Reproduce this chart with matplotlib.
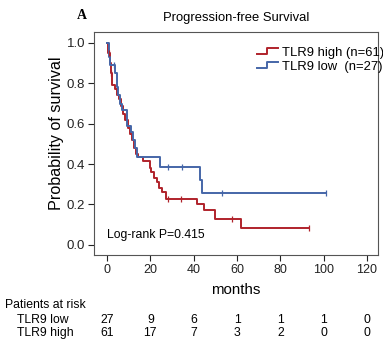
import matplotlib
matplotlib.use("Agg")
import matplotlib.pyplot as plt
from matplotlib.lines import Line2D
from matplotlib.legend_handler import HandlerBase
import matplotlib.transforms as mtransforms

plt.rcParams['font.family'] = ['Liberation Sans', 'DejaVu Sans']

# step curves (months, survival)
high_t = [0, 0.5, 1.2, 1.8, 2.3, 3.5, 4.5, 5.5, 6.5, 7.5, 8.5, 9.5, 10.5, 11.5, 12.5,
          13.5, 14.5, 16.7, 19.8, 20.5, 21.7, 22.9, 24, 25.2, 27, 41.5, 44.7, 49.8, 61.7, 93]
high_s = [1.0, 0.95, 0.90, 0.85, 0.79, 0.77, 0.74, 0.72, 0.69, 0.65, 0.62, 0.58, 0.55, 0.52, 0.48,
          0.45, 0.434, 0.414, 0.38, 0.36, 0.33, 0.31, 0.28, 0.26, 0.225, 0.20, 0.175, 0.13, 0.085, 0.085]
high_cens = [1.0, 2.0, 28, 34.3, 57.5, 93]

low_t = [0, 1, 1.5, 3.5, 4.5, 5, 6, 7, 9, 11, 12, 13, 14, 24.5, 43, 43.8, 101]
low_s = [1.0, 0.93, 0.89, 0.85, 0.78, 0.74, 0.70, 0.67, 0.59, 0.56, 0.52, 0.48, 0.434,
         0.384, 0.32, 0.256, 0.256]
low_cens = [3.0, 28, 34.5, 53, 101]

risk_months = [0, 20, 40, 60, 80, 100, 120]
risk_low = [27, 9, 6, 1, 1, 1, 0]
risk_high = [61, 17, 7, 3, 2, 0, 0]

red = '#B0232B'
blue = '#4566A8'


def surv_at(t, ts, ss):
    v = ss[0]
    for a, b in zip(ts, ss):
        if a <= t:
            v = b
    return v


class StepHandler(HandlerBase):
    def create_artists(self, legend, orig, xd, yd, w, h, fontsize, trans):
        x = [xd, xd + w * 0.45, xd + w * 0.45, xd + w]
        y = [yd + h * 0.2, yd + h * 0.2, yd + h * 0.8, yd + h * 0.8]
        ln = Line2D(x, y, color=orig.get_color(), lw=1.4, transform=trans)
        return [ln]


fig = plt.figure(figsize=(3.83, 3.43), dpi=100)
ax = fig.add_axes([0.2455, 0.2566, 0.741, 0.650])

h1, = ax.step(high_t, high_s, where='post', color=red, lw=1.4)
h2, = ax.step(low_t, low_s, where='post', color=blue, lw=1.4)
ax.plot(high_cens, [surv_at(t, high_t, high_s) for t in high_cens], ls='none',
        marker='|', ms=5, mew=0.9, color=red)
ax.plot(low_cens, [surv_at(t, low_t, low_s) for t in low_cens], ls='none',
        marker='|', ms=5, mew=0.9, color=blue)

ax.set_xlim(-6, 125)
ax.set_ylim(-0.05, 1.054)
ax.set_xticks(risk_months)
ax.set_yticks([0.0, 0.2, 0.4, 0.6, 0.8, 1.0])
ax.set_yticklabels(['0.0', '0.2', '0.4', '0.6', '0.8', '1.0'])
ax.tick_params(direction='out', length=4.5, width=0.8, labelsize=9, colors='#222222', pad=2)
ax.tick_params(axis='y', labelsize=9.5)
for s in ax.spines.values():
    s.set_color('#555555')
    s.set_linewidth(0.8)

ax.set_ylabel('Probability of survival', fontsize=11.6)
ax.yaxis.set_label_coords(-0.105, 0.545)
ax.set_xlabel('months', fontsize=10.8, labelpad=5)
ax.set_title('Progression-free Survival', fontsize=9.4, pad=8)
fig.text(0.213, 0.955, 'A', fontsize=10, fontweight='bold', family='Liberation Serif',
         ha='center', va='center')

ax.legend([h1, h2], ['TLR9 high (n=61)', 'TLR9 low  (n=27)'], loc='upper right',
          frameon=False, fontsize=9.4, handler_map={Line2D: StepHandler()},
          handlelength=1.6, handletextpad=0.3, labelspacing=0.15,
          borderaxespad=0.2, bbox_to_anchor=(1.05, 0.97))

ax.text(0, 0.05, 'Log-rank P=0.415', fontsize=8.8, ha='left', va='center')

# risk table
trans = mtransforms.blended_transform_factory(ax.transData, fig.transFigure)
fig.text(0.012, 0.111, 'Patients at risk', fontsize=8.8, va='center')
fig.text(0.045, 0.067, 'TLR9 low', fontsize=8.8, va='center')
fig.text(0.045, 0.029, 'TLR9 high', fontsize=8.8, va='center')
for m, a, b in zip(risk_months, risk_low, risk_high):
    ax.text(m, 0.067, str(a), transform=trans, fontsize=8.8, ha='center', va='center')
    ax.text(m, 0.029, str(b), transform=trans, fontsize=8.8, ha='center', va='center')

fig.savefig('out.png', dpi=100)
